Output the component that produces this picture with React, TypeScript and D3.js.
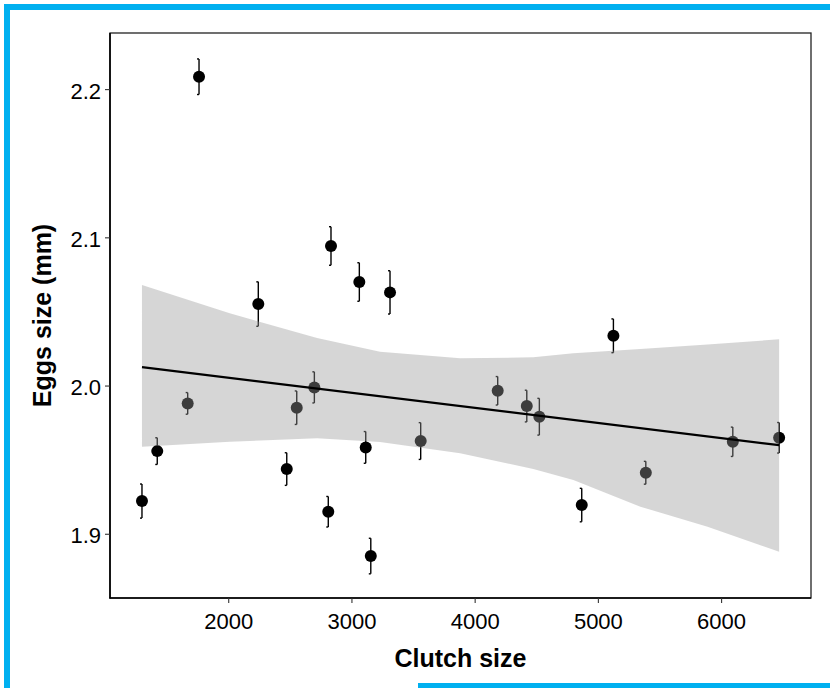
import React from "react";
import * as d3 from "d3";

const clutchSize = [1296, 1420, 1667, 1759, 2240, 2471, 2552, 2695, 2808, 2830, 3060, 3112, 3153, 3309, 3558, 4183, 4419, 4521, 4865, 5122, 5385, 6091, 6467];
const eggSize = [1.9224, 1.9561, 1.9883, 2.2087, 2.0553, 1.944, 1.9854, 1.9991, 1.9152, 2.0945, 2.0702, 1.9586, 1.8853, 2.0632, 1.9629, 1.9968, 1.9865, 1.9793, 1.9197, 2.0339, 1.9415, 1.9624, 1.9651];
const eggErr = [0.0115, 0.009, 0.0073, 0.012, 0.015, 0.011, 0.0113, 0.0105, 0.0103, 0.013, 0.013, 0.0107, 0.012, 0.0146, 0.0124, 0.0096, 0.0107, 0.0124, 0.0113, 0.0114, 0.0077, 0.0099, 0.0103];

const ribbonX = [1296, 2008, 2717, 3228, 3878, 4472, 4797, 5341, 5886, 6467];
const ribbonUpper = [2.0682, 2.0491, 2.0324, 2.0231, 2.0187, 2.0194, 2.0221, 2.025, 2.028, 2.0315];
const ribbonLower = [1.959, 1.9624, 1.9647, 1.9622, 1.9546, 1.944, 1.9366, 1.9186, 1.9051, 1.8882];

const fitX = [1296, 6467];
const fitY = [2.0128, 1.9601];

const xTicks = [2000, 3000, 4000, 5000, 6000];
const yTicks = [1.9, 2.0, 2.1, 2.2];

const W = 830;
const H = 688;
const L = 110, R = 811, T = 33, B = 598;
const FONT = "'Liberation Sans', Arial, sans-serif";
const BLUE = "#00B0F0";

export default function App() {
  const x = d3.scaleLinear().domain([1036.5, 6725.6]).range([L, R]);
  const y = d3.scaleLinear().domain([1.857, 2.2382]).range([B, T]);

  const area = d3
    .area<number>()
    .x((_, i) => x(ribbonX[i]))
    .y0((_, i) => y(ribbonLower[i]))
    .y1((_, i) => y(ribbonUpper[i]));
  const line = d3
    .line<number>()
    .x((_, i) => x(fitX[i]))
    .y((d) => y(d));

  return (
    <svg
      width={W}
      height={H}
      style={{ position: "absolute", left: 0, top: 0, background: "#fff" }}
      fontFamily={FONT}
    >
      {/* blue frame */}
      <rect x={5} y={4} width={W - 5} height={6} fill={BLUE} />
      <rect x={4} y={4} width={6} height={H - 4} fill={BLUE} />
      <rect x={418} y={683} width={W - 418} height={5} fill={BLUE} />

      {/* error bars */}
      {clutchSize.map((cx, i) => {
        const px = x(cx);
        const y1 = y(eggSize[i] + eggErr[i]);
        const y2 = y(eggSize[i] - eggErr[i]);
        return (
          <g key={"e" + i} stroke="#000" strokeWidth={1.4} fill="none">
            <line x1={px} x2={px} y1={y1} y2={y2} />
            <line x1={px - 2} x2={px} y1={y1} y2={y1} />
            <line x1={px - 2} x2={px} y1={y2} y2={y2} />
          </g>
        );
      })}
      {/* points */}
      {clutchSize.map((cx, i) => (
        <circle key={"p" + i} cx={x(cx)} cy={y(eggSize[i])} r={6} fill="#000" />
      ))}

      {/* confidence ribbon */}
      <path d={area(ribbonX) || ""} fill="#999999" fillOpacity={0.4} />
      {/* fit line */}
      <path d={line(fitY) || ""} fill="none" stroke="#000" strokeWidth={2.2} />

      {/* panel border */}
      <rect x={L} y={T} width={R - L} height={B - T} fill="none" stroke="#222" strokeWidth={1.3} />
      <line x1={L} x2={L} y1={T} y2={B + 0.5} stroke="#000" strokeWidth={1.6} />
      <line x1={L - 0.5} x2={R} y1={B} y2={B} stroke="#000" strokeWidth={1.6} />

      {/* x ticks */}
      {xTicks.map((t) => (
        <g key={"xt" + t}>
          <line x1={x(t)} x2={x(t)} y1={B} y2={B + 5} stroke="#333" strokeWidth={1.1} />
          <text x={x(t)} y={B + 31} textAnchor="middle" fontSize={22} fill="#000">
            {t}
          </text>
        </g>
      ))}
      {/* y ticks */}
      {yTicks.map((t) => (
        <g key={"yt" + t}>
          <line x1={L - 5} x2={L} y1={y(t)} y2={y(t)} stroke="#333" strokeWidth={1.1} />
          <text x={L - 9} y={y(t) + 9} textAnchor="end" fontSize={22} fill="#000">
            {d3.format(".1f")(t)}
          </text>
        </g>
      ))}

      {/* axis titles */}
      <text x={(L + R) / 2} y={667} textAnchor="middle" fontSize={25} fontWeight="bold" fill="#000">
        Clutch size
      </text>
      <text
        transform={`translate(51,${(T + B) / 2}) rotate(-90)`}
        textAnchor="middle"
        fontSize={25}
        fontWeight="bold"
        fill="#000"
      >
        Eggs size (mm)
      </text>
    </svg>
  );
}
